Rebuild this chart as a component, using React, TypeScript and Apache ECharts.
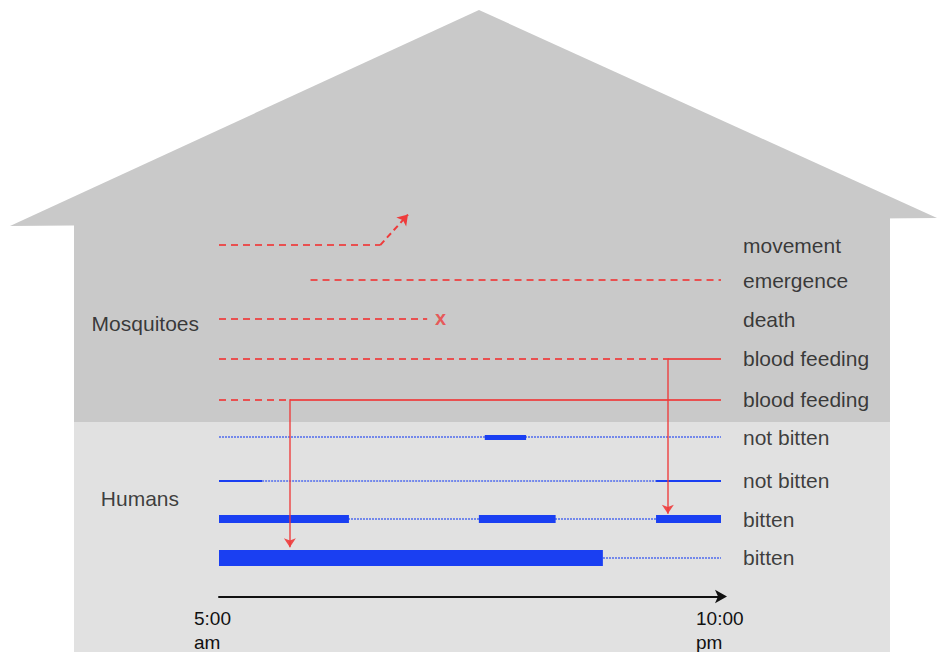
import React, { useEffect, useRef } from "react";
import * as echarts from "echarts";

// x in hours (5 = 5:00 am, 22 = 10:00 pm); y = row index
const rowLabels = ["movement", "emergence", "death", "blood feeding", "blood feeding", "not bitten", "not bitten", "bitten", "bitten"];
const rowPositions = [0, 0.9, 1.9, 2.9, 3.95, 4.92, 6.03, 7.02, 8];
const tickValues = [5, 22];
const tickLabels = ["5:00\nam", "10:00\npm"];

// mosquito segments: [row, x0, x1, style]
const redSegments: [number, number, number, string][] = [
  [0, 5, 10.46, "dashed"],
  [1, 8.1, 22, "dashed"],
  [2, 5, 12.05, "dashed"],
  [3, 5, 20.2, "dashed"],
  [3, 20.2, 22, "solid"],
  [4, 5, 7.4, "dashed"],
  [4, 7.4, 22, "solid"],
];
// movement arrow: from (x,row) to (x,row)
const movementArrow = [[10.46, 0], [11.4, -0.78]];
const deathMark = [12.5, 2];
// biting arrows: [x, fromRow, toRow]
const biteArrows: [number, number, number][] = [
  [20.2, 3, 7],
  [7.4, 4, 8],
];
// human segments: [row, x0, x1, width]  (width 1 = dotted)
const blueSegments: [number, number, number, number][] = [
  [5, 5, 22, 1],
  [5, 14.0, 15.4, 5],
  [6, 5, 6.46, 2],
  [6, 6.46, 19.8, 1],
  [6, 19.8, 22, 2],
  [7, 5, 22, 1],
  [7, 5, 9.4, 8],
  [7, 13.8, 16.4, 8],
  [7, 19.8, 22, 8],
  [8, 5, 22, 1],
  [8, 5, 18.0, 16],
];
const groupLabels = [["Mosquitoes", 2, 20], ["Humans", 6.5, 40]] as [string, number, number][];

const RED = "#ee3b3b";
const BLUE = "#1a3ff2";
const FONT = "Liberation Sans";

export default function App() {
  const ref = useRef<HTMLDivElement>(null);
  useEffect(() => {
    const chart = echarts.init(ref.current!, null, { renderer: "svg" });
    const Y = (r: number) => rowPositions[r];
    const series: any[] = [];
    blueSegments.forEach(([r, a, b, w]) => {
      series.push({
        type: "lines", coordinateSystem: "cartesian2d", silent: true,
        lineStyle: { color: BLUE, width: w === 1 ? 2 : w, type: w === 1 ? [2, 1] : "solid", opacity: w === 1 ? 0.55 : 1, cap: "butt" },
        data: [{ coords: [[a, Y(r)], [b, Y(r)]] }],
      });
    });
    redSegments.forEach(([r, a, b, s]) => {
      series.push({
        type: "lines", coordinateSystem: "cartesian2d", silent: true,
        lineStyle: { color: RED, width: 2, type: s === "dashed" ? [7, 5] : "solid", opacity: 0.85 },
        data: [{ coords: [[a, Y(r)], [b, Y(r)]] }],
      });
    });
    series.push({
      type: "lines", coordinateSystem: "cartesian2d", silent: true,
      symbol: ["none", "arrow"], symbolSize: 10,
      lineStyle: { color: RED, width: 2, type: [6, 4], opacity: 1 },
      data: [{ coords: movementArrow }],
    });
    biteArrows.forEach(([x, a, b]) => {
      const end = Y(b) - (b === 8 ? 0.26 : 0.14);
      series.push({
        type: "lines", coordinateSystem: "cartesian2d", silent: true,
        symbol: ["none", "arrow"], symbolSize: 9,
        lineStyle: { color: RED, width: 1.5, opacity: 0.9 },
        data: [{ coords: [[x, Y(a)], [x, end]] }],
      });
    });
    series.push({
      type: "scatter", symbolSize: 0, silent: true,
      label: { show: true, formatter: "x", color: RED, fontSize: 20, fontWeight: "bold", fontFamily: FONT, offset: [0, -1] },
      data: [[deathMark[0], Y(deathMark[1])]],
    });
    series.push({
      type: "scatter", symbolSize: 0, silent: true,
      label: { show: true, formatter: (p: any) => rowLabels[p.dataIndex], position: "right", distance: 22, color: "#111", fontSize: 21, fontFamily: FONT },
      data: rowLabels.map((_, i) => [22, Y(i)]),
    });
    series.push({
      type: "scatter", symbolSize: 0, silent: true,
      data: groupLabels.map(([t, y, d]) => ({
        value: [5, y],
        label: { show: true, formatter: t, position: "left", distance: d, color: "#111", fontSize: 21, fontFamily: FONT },
      })),
    });

    chart.setOption({
      animation: false,
      graphic: [
        { type: "polygon", z: -10, shape: { points: [[10, 226], [479, 10], [937, 218]] }, style: { fill: "#c9c9c9" } },
        { type: "rect", z: -10, shape: { x: 74, y: 218, width: 816, height: 204 }, style: { fill: "#c9c9c9" } },
        { type: "rect", z: -10, shape: { x: 74, y: 422, width: 816, height: 230 }, style: { fill: "#e1e1e1" } },
      ],
      grid: { left: 219, right: 216, top: 206, bottom: 54 },
      xAxis: {
        type: "value", min: 5, max: 22,
        splitLine: { show: false }, axisTick: { show: false },
        axisLine: { show: true, onZero: false, symbol: ["none", "arrow"], symbolSize: [10, 12], symbolOffset: [0, 6], lineStyle: { color: "#111", width: 2 } },
        axisLabel: {
          customValues: tickValues, margin: 10,
          formatter: (v: number) => "{a|" + tickLabels[tickValues.indexOf(v)] + "}",
          rich: { a: { width: 50, align: "left", fontSize: 19, lineHeight: 24, color: "#111", fontFamily: FONT } },
        },
      },
      yAxis: { type: "value", inverse: true, min: -1, max: 9, show: false },
      series,
    });
    return () => chart.dispose();
  }, []);
  return <div ref={ref} style={{ width: 937, height: 652, position: "absolute", left: 0, top: 0, background: "#fff" }} />;
}
